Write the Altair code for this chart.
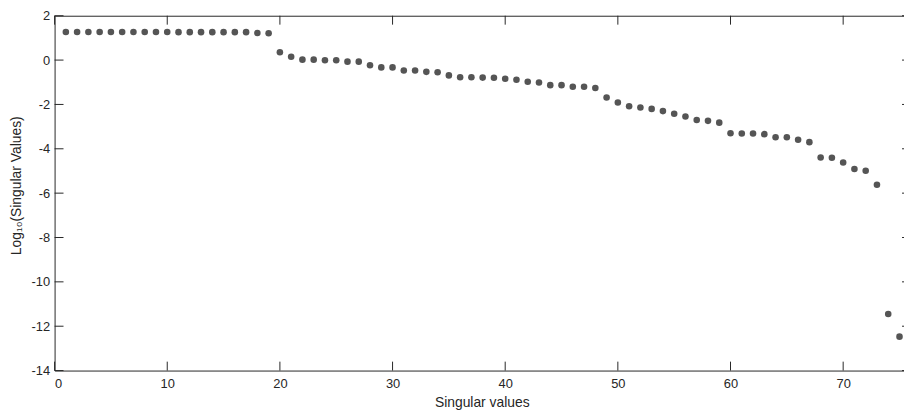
import altair as alt
import pandas as pd

# ---- data ----
index = list(range(1, 76))
log_sv = ([1.27] * 10 + [1.26] * 7 + [1.22, 1.21,
          0.35, 0.15, 0.02, 0.02, -0.01, -0.01, -0.07, -0.07, -0.23, -0.33,
          -0.33, -0.47, -0.47, -0.53, -0.55, -0.69, -0.77, -0.77, -0.79, -0.80,
          -0.84, -0.89, -0.98, -1.01, -1.13, -1.13, -1.20, -1.20, -1.26, -1.69,
          -1.91, -2.08, -2.14, -2.20, -2.30, -2.42, -2.54, -2.70, -2.74, -2.82,
          -3.30, -3.31, -3.31, -3.34, -3.48, -3.48, -3.59, -3.70, -4.39, -4.40,
          -4.62, -4.91, -4.99, -5.62, -11.45, -12.47])
x_ticks = [0, 10, 20, 30, 40, 50, 60, 70]
y_ticks = [-14, -12, -10, -8, -6, -4, -2, 0, 2]

df = pd.DataFrame({"index": index, "log_sv": log_sv})
xt = pd.DataFrame({"index": x_ticks})
yt = pd.DataFrame({"log_sv": y_ticks})

W, H = 857, 358
FRAME = "#262626"
FONT = "Liberation Sans"
TL = 9  # inward tick length

xs = alt.Scale(domain=[0, 75.4], nice=False, zero=False)
ys = alt.Scale(domain=[-14, 2], nice=False, zero=False)

x_axis = alt.Axis(values=x_ticks, title="Singular values",
                  labelPadding=7, labelExpr="datum.value + ''",
                  titleX=431, titleY=36,
                  titleBaseline="alphabetic", titleAlign="center")
y_axis = alt.Axis(values=y_ticks, title="Log₁₀(Singular Values)",
                  labelPadding=5, labelExpr="datum.value + ''",
                  titleX=-34, titleY=171,
                  titleAngle=270, titleBaseline="alphabetic",
                  titleAlign="center")

X = alt.X("index:Q", scale=xs, axis=x_axis)
Y = alt.Y("log_sv:Q", scale=ys, axis=y_axis)

points = alt.Chart(df).mark_circle(size=44, color="#555555", opacity=1).encode(x=X, y=Y)

bottom_ticks = alt.Chart(xt).mark_rule(color=FRAME, strokeWidth=1).encode(
    x=X, y=alt.value(H), y2=alt.value(H - TL))
top_ticks = alt.Chart(xt).mark_rule(color=FRAME, strokeWidth=1).encode(
    x=X, y=alt.value(0), y2=alt.value(TL))
left_ticks = alt.Chart(yt).mark_rule(color=FRAME, strokeWidth=1).encode(
    y=Y, x=alt.value(0), x2=alt.value(TL))
right_ticks = alt.Chart(yt).mark_rule(color=FRAME, strokeWidth=1).encode(
    y=Y, x=alt.value(W - 2), x2=alt.value(W))
top_border = alt.Chart(pd.DataFrame({"a": [0]})).mark_rule(color=FRAME, strokeWidth=1).encode(
    x=alt.value(0), x2=alt.value(W), y=alt.value(0.5))

chart = alt.layer(points, bottom_ticks, top_ticks, left_ticks, right_ticks, top_border).properties(
    width=W, height=H,
    autosize=alt.AutoSizeParams(type="none"),
    padding={"left": 47, "top": 6, "right": 0, "bottom": 40},
).configure_view(stroke=None).configure_axis(
    grid=False, ticks=False, tickSize=0,
    domainColor=FRAME, domainWidth=1,
    labelFont=FONT, titleFont=FONT,
    labelFontSize=13, titleFontSize=14,
    labelColor=FRAME, titleColor=FRAME,
    titleFontWeight="normal",
)

chart.save("out.html", embed_options={"renderer": "svg", "actions": False})
